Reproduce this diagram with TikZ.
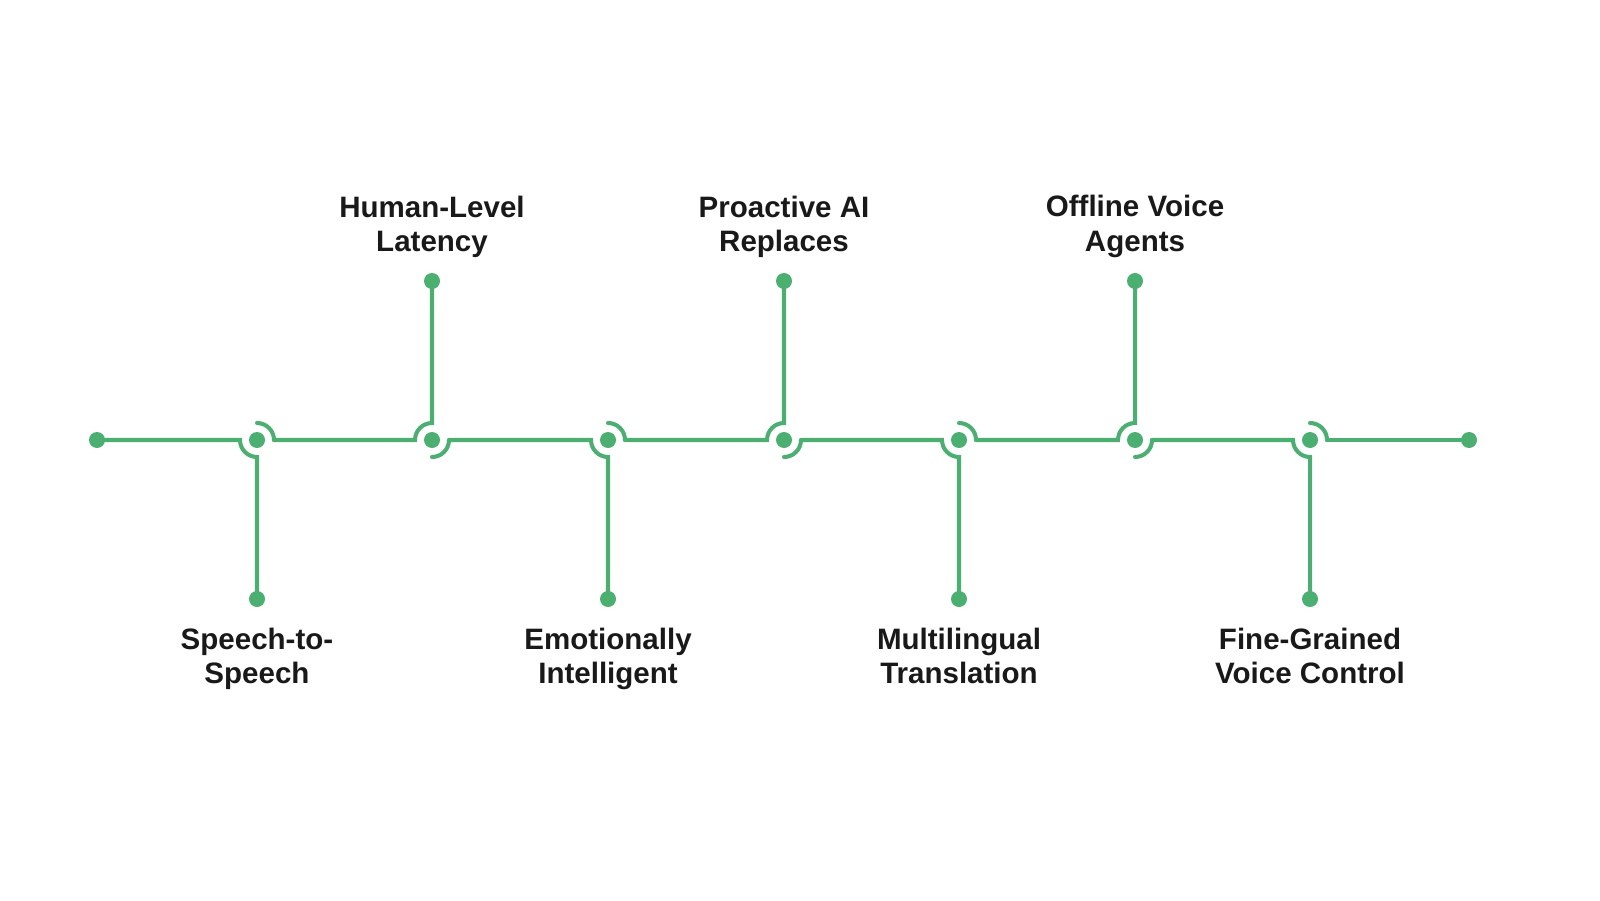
\documentclass[tikz,border=0pt]{standalone}
\usepackage{fontspec}
\setmainfont{Liberation Sans}
\definecolor{tlgreen}{HTML}{4CAF72}
\tikzset{
  tlline/.style={draw=tlgreen, line width=1.15pt, line cap=round},
  tldot/.style={circle, fill=tlgreen, inner sep=0pt, minimum size=0.16cm},
  tllabel/.style={font=\fontsize{8.4}{9.7}\selectfont\bfseries, align=center, text=black!90, inner sep=0pt}
}
\begin{document}
\begin{tikzpicture}
  \useasboundingbox (0,0) rectangle (16,9);
  % Ends of the timeline
  \node[tldot] (start) at (0.97,4.6) {};
  \node[tldot] (end) at (14.69,4.6) {};
  \coordinate (prev) at (start.center);
  % Milestones: x / up(1) or down(-1) / label
  \foreach \x/\d/\txt [count=\i] in {
      2.57/-1/{Speech-to-\\Speech},
      4.32/1/{Human-Level\\Latency},
      6.08/-1/{Emotionally\\Intelligent},
      7.84/1/{Proactive AI\\Replaces},
      9.59/-1/{Multilingual\\Translation},
      11.35/1/{Offline Voice\\Agents},
      13.10/-1/{Fine-Grained\\Voice Control}} {
    \node[tldot] (m\i) at (\x,4.6) {};
    \node[tldot] (e\i) at (\x,{4.6+\d*1.59}) {};
    \ifnum\d>0
      \node[tllabel, anchor=south] (l\i) at (\x,6.42) {\txt};
    \else
      \node[tllabel, anchor=north] (l\i) at (\x,2.73) {\txt};
    \fi
    % incoming segment turning into the branch
    \draw[tlline] (prev) -- ([xshift=-0.17cm]m\i.center)
      arc[start angle=180, delta angle={-90*\d}, radius=0.17cm] -- (e\i.center);
    % outgoing arc
    \draw[tlline] ([yshift={-\d*0.17cm}]m\i.center)
      arc[start angle={-90*\d}, delta angle={90*\d}, radius=0.17cm]
      coordinate (prev);
  }
  \draw[tlline] (prev) -- (end.center);
\end{tikzpicture}
\end{document}
